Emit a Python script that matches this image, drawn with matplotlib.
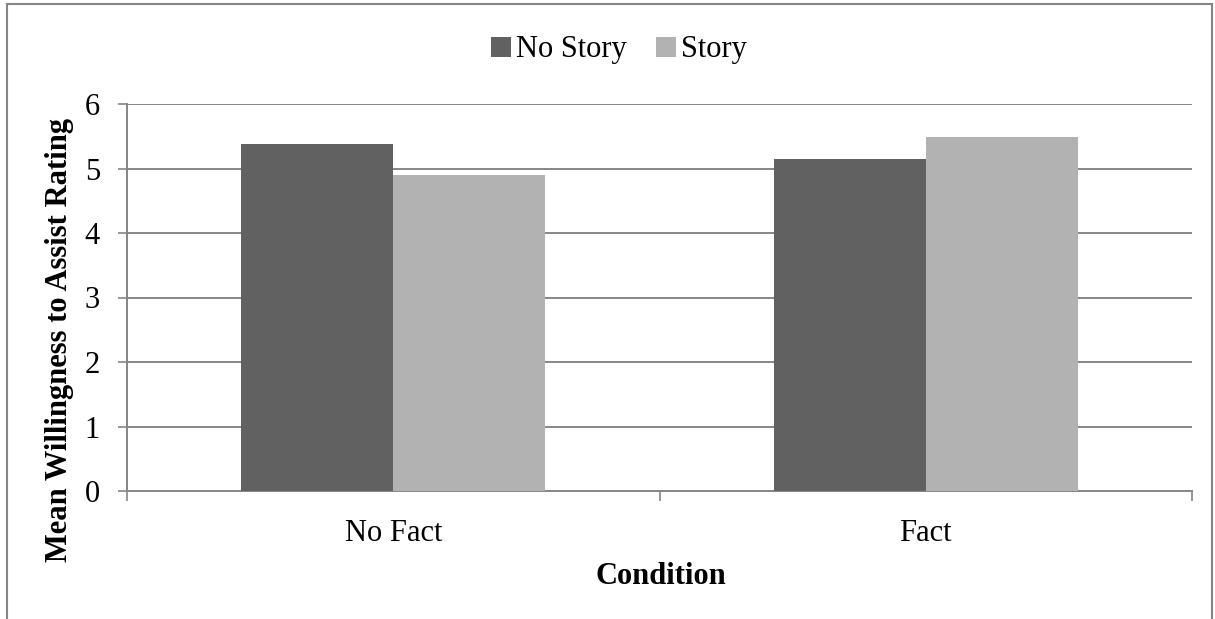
import matplotlib.pyplot as plt
from matplotlib.patches import Rectangle
import numpy as np

plt.rcParams['font.family'] = ['Liberation Serif', 'DejaVu Serif']

categories = ['No Fact', 'Fact']
series_names = ['No Story', 'Story']
no_story = [5.38, 5.15]
story = [4.90, 5.49]
colors = ['#616161', '#b2b2b2']

W, H = 1215, 619
fig = plt.figure(figsize=(W / 100, H / 100), dpi=100)
ax = fig.add_axes([127 / W, 1 - 491 / H, (1192 - 127) / W, (491 - 104) / H])

x = np.arange(len(categories))
w = 0.285
ax.bar(x - w / 2, no_story, w, color=colors[0], label=series_names[0], zorder=3)
ax.bar(x + w / 2, story, w, color=colors[1], label=series_names[1], zorder=3)

ax.set_xlim(-0.5, 1.5)
ax.set_ylim(0, 6)
ax.set_yticks(range(7))
ax.set_xticks(x)
ax.set_xticklabels(categories)
ax.set_xticks([-0.5, 0.5, 1.5], minor=True)
ax.tick_params(axis='x', which='major', length=0, pad=20, labelsize=22)
ax.tick_params(axis='x', which='minor', length=7, width=1.2, color='#868686')
ax.tick_params(axis='y', length=6.5, width=1.2, color='#868686', labelsize=22, pad=13)

ax.grid(axis='y', color='#868686', linewidth=1.4, zorder=0)
for s in ['top', 'right']:
    ax.spines[s].set_visible(False)
for s in ['left', 'bottom']:
    ax.spines[s].set_color('#868686')
    ax.spines[s].set_linewidth(1.4)

# axis titles placed like the Excel original
fig.text(661 / W, 1 - 584 / H, 'Condition', fontsize=22, fontweight='bold',
         ha='center', va='baseline')
fig.text(60 / W, 1 - 118 / H, 'Mean Willingness to Assist Rating', fontsize=22,
         fontweight='bold', rotation=90, ha='center', va='top')

ax.legend(loc='center', bbox_to_anchor=(619 / W, 1 - 50 / H), bbox_transform=fig.transFigure,
          ncol=2, frameon=False, fontsize=22, handlelength=0.65, handleheight=0.65,
          handletextpad=0.16, columnspacing=0.95, borderpad=0)

fig.patches.append(Rectangle((7 / W, -0.05), (1212 - 7) / W, 1.05 - 4 / H,
                             transform=fig.transFigure, fill=False,
                             edgecolor='#868686', linewidth=1.5))

fig.savefig('out.png', dpi=100)
